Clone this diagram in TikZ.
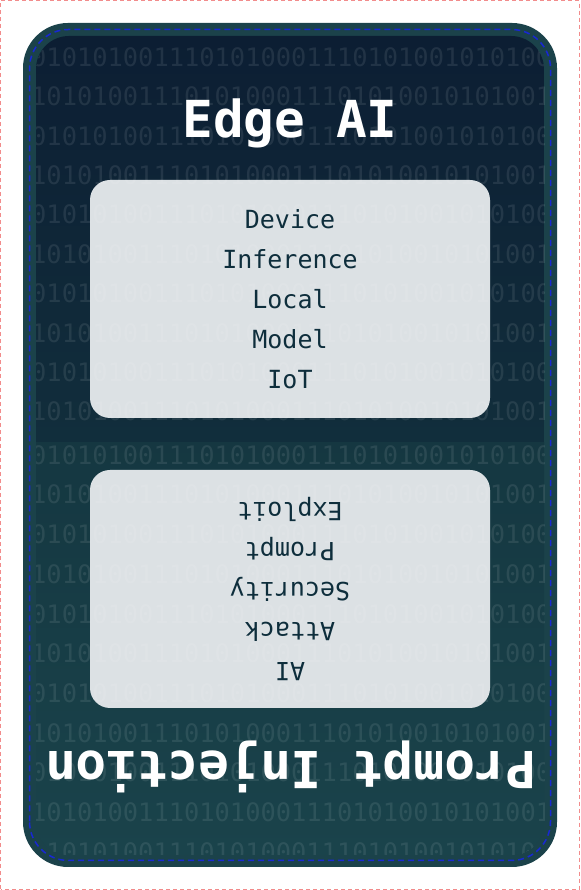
\documentclass[tikz,border=0pt]{standalone}
\usepackage{fontspec}
\setmonofont{DejaVu Sans Mono}
\usetikzlibrary{positioning}

\definecolor{pageline}{RGB}{242,140,140}
\definecolor{cardedge}{RGB}{27,66,74}
\definecolor{fronttop}{RGB}{12,30,51}
\definecolor{frontbottom}{RGB}{18,48,61}
\definecolor{backtop}{RGB}{20,54,64}
\definecolor{backbottom}{RGB}{26,67,75}
\definecolor{dashblue}{RGB}{24,40,210}
\definecolor{boxfill}{RGB}{220,225,228}
\definecolor{inktext}{RGB}{14,46,60}

\newcommand{\bitsA}{0101010011101010001110101001010100}
\newcommand{\bitsB}{1010100111010100011101010010101001}

\begin{document}
\begin{tikzpicture}[x=1pt, y=1pt,
    facebox/.style={rectangle, rounded corners=20pt, fill=boxfill, minimum width=400pt, minimum height=238pt},
    facetext/.style={align=center, text=inktext, inner sep=0pt, font=\ttfamily\fontsize{25}{40}\selectfont},
    bigtitle/.style={text=white, inner sep=0pt, font=\ttfamily\bfseries\fontsize{51}{51}\selectfont},
    bitrow/.style={anchor=west, inner sep=0pt, text=white, text opacity=0.09, font=\ttfamily\fontsize{25.4}{25.4}\selectfont},
]
\useasboundingbox (0,0) rectangle (580,890);
\draw[pageline, line width=1pt, dash pattern=on 4pt off 3pt] (0.75,0.75) rectangle (579.25,889.25);

% card
\fill[cardedge, rounded corners=45pt] (23,23) rectangle (557,867);
\begin{scope}
  \clip (0,447) rectangle (580,890);
  \shade[top color=fronttop, bottom color=frontbottom, rounded corners=33pt] (36,854) rectangle (544,400);
\end{scope}
\begin{scope}
  \clip (0,0) rectangle (580,447);
  \shade[top color=backtop, bottom color=backbottom, rounded corners=33pt] (36,490) rectangle (544,35);
\end{scope}
\draw[dashblue, line width=1.5pt, dash pattern=on 6pt off 4pt, rounded corners=39pt] (29.5,29.5) rectangle (550.5,860.5);

% faces
\node[facebox] (frontbox) at (290,591) {};
\node[facebox] (backbox) at (290,301) {};

% binary background
\begin{scope}
  \clip[rounded corners=33pt] (36,35) rectangle (544,854);
  \foreach \k in {0,...,4} {
    \node[bitrow] (topA\k) at (31,{833-2*\k*39.4}) {\bitsA};
    \node[bitrow] (topB\k) at (31,{833-(2*\k+1)*39.4}) {\bitsB};
    \node[bitrow] (lowB\k) at (31,{435-(2*\k+1)*39.7}) {\bitsB};
  }
  \foreach \k in {0,...,5}
    \node[bitrow] (lowA\k) at (31,{435-2*\k*39.7}) {\bitsA};
\end{scope}

% texts
\node[bigtitle] (fronttitle) at (290,767) {Edge AI};
\node[facetext] (frontwords) at (frontbox.center) {Device\\Inference\\Local\\Model\\IoT};
\node[facetext, rotate=180] (backwords) at (backbox.center) {AI\\Attack\\Security\\Prompt\\Exploit};
\node[bigtitle, rotate=180] (backtitle) at (291,123) {Prompt Injection};
\end{tikzpicture}
\end{document}
